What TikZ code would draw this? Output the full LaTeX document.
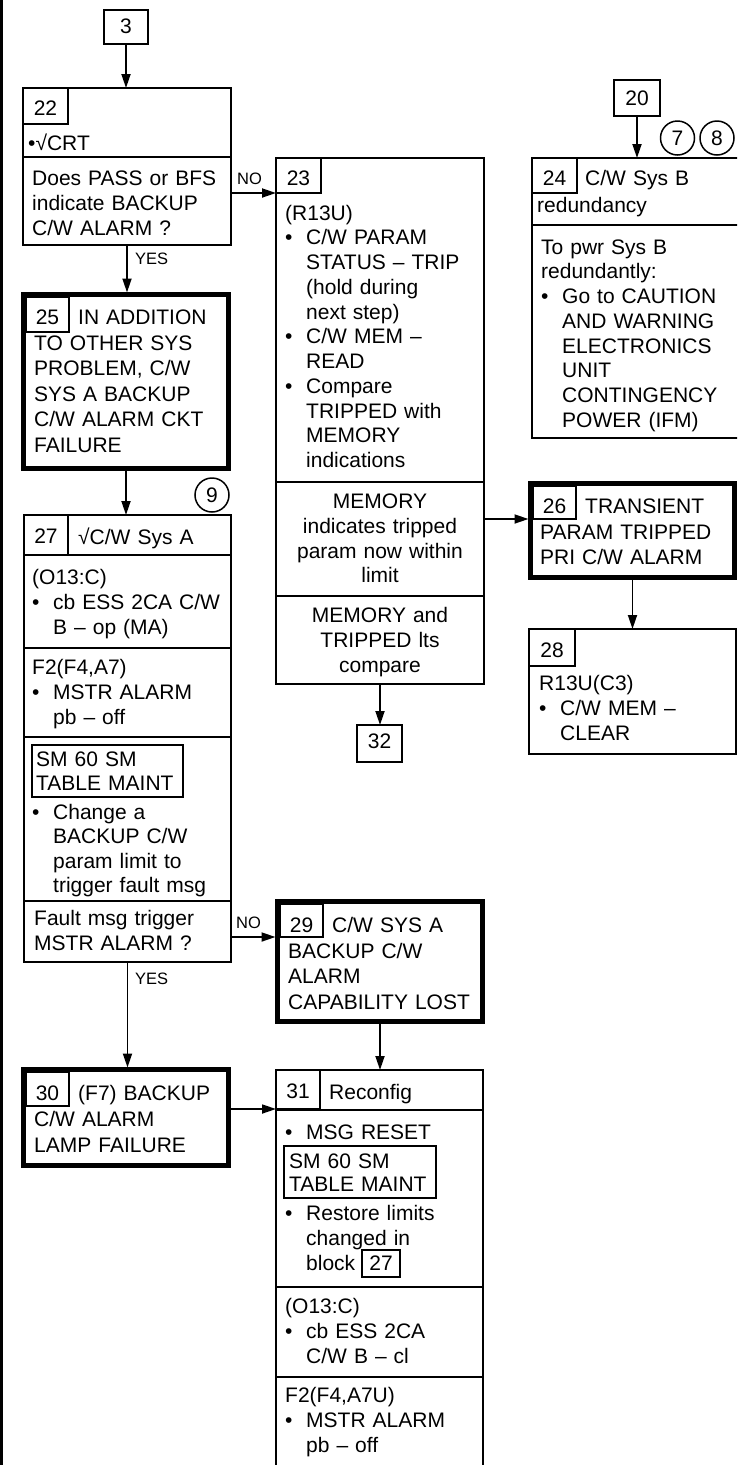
\documentclass[tikz,border=0pt]{standalone}
\usepackage{fontspec}
\setmainfont{Liberation Sans}
\usetikzlibrary{arrows.meta}
\newcommand\bodyf{\fontsize{21}{24.75}\selectfont}
\newcommand\lblf{\fontsize{16.5}{18}\selectfont}
\newcommand\bulx{\makebox[21pt][l]{•}}
\newcommand\indx{\hspace*{21pt}}
\newcommand\drawbx[6]{\node[#2, minimum width={(#5)-(#3)}, minimum height={(#6)-(#4)}] (#1) at (#3,#4) {};}
\begin{document}
\begin{tikzpicture}[x=1pt,y=-1pt,
  bx/.style={draw, line width=2pt, inner sep=0pt, outer sep=0pt, anchor=north west},
  thk/.style={draw, line width=5pt, inner sep=0pt, outer sep=0pt, anchor=north west},
  hd/.style={draw, line width=1.3pt, inner sep=0pt, outer sep=0pt, anchor=north west},
  tx/.style={anchor=base west, inner sep=0pt, text width=250pt, align=left, font=\bodyf},
  txc/.style={anchor=base, inner sep=0pt, text width=205pt, align=center, font=\bodyf},
  num/.style={anchor=base, inner sep=0pt, font=\bodyf},
  lbl/.style={anchor=base west, inner sep=0pt, font=\lblf},
  arr/.style={-{Triangle[length=14pt,width=9pt]}, line width=1.8pt},
  circ/.style={draw, circle, line width=1.5pt, inner sep=0pt, minimum size=34pt, font=\bodyf},
  dv/.style={line width=2pt},
]
\useasboundingbox (0,0) rectangle (737,1465);
\clip (0,0) rectangle (737,1465);

% left border
\draw[line width=2.5pt] (1.5,0) -- (1.5,1465);

% box 3
\drawbx{b3}{bx}{104}{10}{148}{44}
\node[num] (n3) at (126,33.3) {3};

% box 22
\drawbx{b22}{bx}{23}{88}{231}{245}
\drawbx{h22}{hd}{23}{88}{68}{124}
\draw[dv] (23,157) -- (231,157);
\node[num] (n22) at (45.5,115.5) {22};
\node[tx] (t22a) at (28,150.5) {•√CRT};
\node[tx] (t22b) at (32,185.5) {Does PASS or BFS\\indicate BACKUP\\C/W ALARM ?};

% box 23
\drawbx{b23}{bx}{276}{158}{484}{684}
\drawbx{h23}{hd}{276}{158}{321}{193}
\node[num] (n23) at (298.5,185) {23};
\node[tx] (t23a) at (285,220) {(R13U)\\\bulx C/W PARAM\\\indx STATUS – TRIP\\\indx (hold during\\\indx next step)\\\bulx C/W MEM –\\\indx READ\\\bulx Compare\\\indx TRIPPED with\\\indx MEMORY\\\indx indications};
\draw[dv] (276,482) -- (484,482);
\node[txc] (t23b) at (380,508.5) {MEMORY\\indicates tripped\\param now within\\limit};
\draw[dv] (276,596) -- (484,596);
\node[txc] (t23c) at (380,622.5) {MEMORY and\\TRIPPED lts\\compare};

% box 32
\drawbx{b32}{bx}{357}{725}{402}{762}
\node[num] (n32) at (379.5,748.3) {32};

% box 20 and circles
\drawbx{b20}{bx}{614}{80}{660}{116}
\node[num] (n20) at (637,105) {20};
\node[circ] (c7) at (677.5,138) {7};
\node[circ] (c8) at (717,138) {8};

% box 24
\drawbx{b24}{bx}{532}{158}{745}{438}
\drawbx{h24}{hd}{532}{158}{577}{193}
\node[num] (n24) at (554.5,185) {24};
\node[tx] (t24a) at (537,185) {\hspace*{48pt}C/W Sys B\\[2.75pt]redundancy};
\draw[dv] (532,225) -- (745,225);
\node[tx] (t24b) at (541,254.2) {To pwr Sys B\\redundantly:\\\bulx Go to CAUTION\\\indx AND WARNING\\\indx ELECTRONICS\\\indx UNIT\\\indx CONTINGENCY\\\indx POWER (IFM)};

% box 25
\drawbx{b25}{thk}{23.5}{294.5}{228.5}{468.5}
\drawbx{h25}{hd}{26}{297}{69}{332}
\node[num] (n25) at (47.5,324.5) {25};
\node[tx, font=\fontsize{21}{25.6}\selectfont] (t25) at (34,324.5) {\hspace*{44pt}IN ADDITION\\TO OTHER SYS\\PROBLEM, C/W\\SYS A BACKUP\\C/W ALARM CKT\\FAILURE};

% circle 9
\node[circ] (c9) at (212,495) {9};

% box 27
\drawbx{b27}{bx}{24}{515}{231}{962}
\drawbx{h27}{hd}{24}{515}{68}{555}
\draw[dv] (24,555) -- (231,555);
\node[num] (n27) at (46,543.5) {27};
\node[tx] (t27a) at (78,544.5) {√C/W Sys A};
\node[tx, font=\fontsize{21}{25}\selectfont] (t27b) at (32,584.5) {(O13:C)\\\bulx cb ESS 2CA C/W\\\indx B – op (MA)};
\draw[dv] (24,648) -- (231,648);
\node[tx, font=\fontsize{21}{25}\selectfont] (t27c) at (32,674.5) {F2(F4,A7)\\\bulx MSTR ALARM\\\indx pb – off};
\draw[dv] (24,737) -- (231,737);
\drawbx{s27}{bx}{32}{745}{183}{797}
\node[tx, font=\fontsize{21}{24}\selectfont] (t27d) at (36,766.5) {SM 60 SM\\TABLE MAINT};
\node[tx, font=\fontsize{21}{24.3}\selectfont] (t27e) at (32,819.5) {\bulx Change a\\\indx BACKUP C/W\\\indx param limit to\\\indx trigger fault msg};
\draw[dv] (24,901) -- (231,901);
\node[tx, font=\fontsize{21}{25}\selectfont] (t27f) at (34,925.5) {Fault msg trigger\\MSTR ALARM ?};

% box 26
\drawbx{b26}{thk}{530.5}{483.5}{734.5}{577.5}
\drawbx{h26}{hd}{533}{486}{576}{519}
\node[num] (n26) at (554.5,513) {26};
\node[tx, font=\fontsize{21}{25.5}\selectfont] (t26) at (540,513.5) {\hspace*{45pt}TRANSIENT\\PARAM TRIPPED\\PRI C/W ALARM};

% box 28
\drawbx{b28}{bx}{529}{629}{736}{754}
\drawbx{h28}{hd}{529}{629}{575}{666}
\node[num] (n28) at (552,657) {28};
\node[tx] (t28) at (539,690.5) {R13U(C3)\\\bulx C/W MEM –\\\indx CLEAR};

% box 29
\drawbx{b29}{thk}{277.5}{901.5}{482.5}{1021.5}
\drawbx{h29}{hd}{280}{904}{323}{937}
\node[num] (n29) at (301.5,932) {29};
\node[tx, font=\fontsize{21}{25.6}\selectfont] (t29) at (288,932.5) {\hspace*{44pt}C/W SYS A\\BACKUP C/W\\ALARM\\CAPABILITY LOST};

% box 30
\drawbx{b30}{thk}{23.5}{1069.5}{228.5}{1165.5}
\drawbx{h30}{hd}{26}{1072}{69}{1106}
\node[num] (n30) at (47.5,1100.5) {30};
\node[tx, font=\fontsize{21}{26}\selectfont] (t30) at (34,1100.5) {\hspace*{44pt}(F7) BACKUP\\C/W ALARM\\LAMP FAILURE};

% box 31
\drawbx{b31}{bx}{276}{1070}{483}{1480}
\drawbx{h31}{hd}{276}{1070}{320}{1109}
\draw[dv] (276,1110) -- (483,1110);
\node[num] (n31) at (298,1098.5) {31};
\node[tx] (t31a) at (329,1099.5) {Reconfig};
\node[tx] (t31b) at (285,1139.5) {\bulx MSG RESET};
\drawbx{s31}{bx}{284}{1146}{436}{1198}
\node[tx, font=\fontsize{21}{23.3}\selectfont] (t31c) at (289,1168.5) {SM 60 SM\\TABLE MAINT};
\node[tx] (t31d) at (285,1220.5) {\bulx Restore limits\\\indx changed in\\\indx block};
\drawbx{k31}{bx}{362}{1250}{400}{1277}
\node[num] (n31k) at (381,1270.5) {27};
\draw[dv] (276,1287) -- (483,1287);
\node[tx, font=\fontsize{21}{25}\selectfont] (t31e) at (285,1313.5) {(O13:C)\\\bulx cb ESS 2CA\\\indx C/W B – cl};
\draw[dv] (276,1377) -- (483,1377);
\node[tx, font=\fontsize{21}{25}\selectfont] (t31f) at (285,1402.5) {F2(F4,A7U)\\\bulx MSTR ALARM\\\indx pb – off};

% labels
\node[lbl] (no1) at (237,184) {NO};
\node[lbl] (yes1) at (135,264) {YES};
\node[lbl] (no2) at (236,928) {NO};
\node[lbl] (yes2) at (135,984) {YES};

% connectors
\draw[arr] (b3.south) -- (b3.south |- b22.north);
\draw[arr, shorten >=2pt] (b22.south) -- (b22.south |- b25.north);
\draw[arr] (b22.east |- h23.south) -- (h23.south west);
\draw[arr] (b20.south) -- (b20.south |- b24.north);
\draw[arr] (b25.south) -- (b25.south |- b27.north);
\draw[arr, shorten >=2pt] (b23.east |- h26.south) -- (b26.west |- h26.south);
\draw[arr] (b26.south) -- (b26.south |- b28.north);
\draw[arr] (b23.south) -- (b23.south |- b32.north);
\draw[arr, shorten >=2pt] (b27.east |- h29.south) -- (b29.west |- h29.south);
\draw[arr, shorten >=2pt] (b27.south) -- (b27.south |- b30.north);
\draw[arr] (b29.south) -- (b29.south |- b31.north);
\draw[arr] (b30.east |- h31.south) -- (b31.west |- h31.south);
\end{tikzpicture}
\end{document}
